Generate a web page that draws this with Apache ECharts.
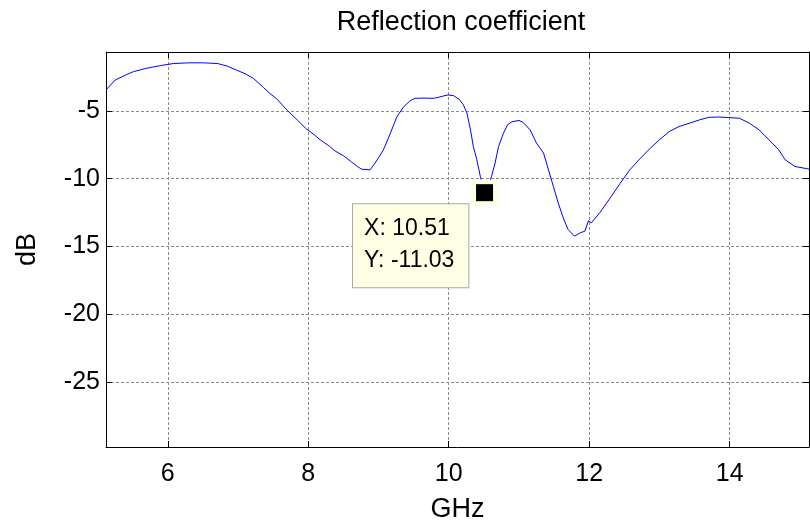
<!DOCTYPE html>
<html>
<head>
<meta charset="utf-8">
<script src="https://cdn.jsdelivr.net/npm/echarts@6/dist/echarts.min.js"></script>
<style>html,body{margin:0;padding:0;background:#fff}#c{width:810px;height:523px}</style>
</head>
<body>
<div id="c"></div>
<script>
const freqGHz = [5.12,5.25,5.4,5.51,5.7,5.9,6.08,6.3,6.5,6.71,6.85,6.98,7.1,7.22,7.36,7.45,7.55,7.7,7.85,7.96,8.07,8.17,8.3,8.38,8.5,8.6,8.7,8.76,8.88,8.95,9.02,9.07,9.17,9.26,9.36,9.45,9.52,9.65,9.78,9.85,9.92,9.99,10.07,10.15,10.21,10.26,10.31,10.35,10.4,10.45,10.51,10.56,10.61,10.66,10.71,10.78,10.84,10.9,11.0,11.06,11.16,11.25,11.35,11.42,11.49,11.56,11.63,11.7,11.79,11.87,11.94,11.99,12.03,12.15,12.3,12.44,12.58,12.72,12.86,13.0,13.14,13.28,13.43,13.57,13.71,13.85,13.99,14.14,14.28,14.42,14.56,14.7,14.79,14.93,15.13];
const reflectionDB = [-3.45,-2.72,-2.35,-2.1,-1.85,-1.65,-1.5,-1.45,-1.45,-1.5,-1.7,-1.99,-2.25,-2.6,-3.26,-3.7,-4.1,-4.95,-5.7,-6.27,-6.7,-7.13,-7.6,-7.95,-8.3,-8.7,-9.1,-9.3,-9.35,-8.85,-8.3,-7.87,-6.64,-5.45,-4.68,-4.25,-4.07,-4.05,-4.07,-4.0,-3.9,-3.82,-3.87,-4.15,-4.56,-5.17,-6.4,-7.62,-8.6,-9.83,-11.03,-10.6,-9.83,-8.85,-7.62,-6.64,-6.0,-5.8,-5.7,-5.85,-6.4,-7.38,-8.11,-9.34,-10.57,-11.79,-12.89,-13.75,-14.24,-14.0,-13.87,-13.1,-13.26,-12.52,-11.42,-10.35,-9.34,-8.55,-7.8,-7.13,-6.52,-6.15,-5.9,-5.66,-5.47,-5.45,-5.49,-5.54,-5.9,-6.4,-7.13,-7.87,-8.6,-9.1,-9.29];
const xTicks = [6, 8, 10, 12, 14];
const yTicks = [-25, -20, -15, -10, -5];
const dataTip = [10.51, -11.03];
const titleText = 'Reflection coefficient';
const xName = 'GHz';
const yName = 'dB';

const X_MIN = 5.12, X_MAX = 15.13, Y_MIN = -29.8, Y_MAX = -0.65;
const FONT = '"Liberation Sans", Arial, sans-serif';
const gridLine = { show: true, lineStyle: { color: '#8a8a8a', type: [3, 2], width: 1 } };

const chart = echarts.init(document.getElementById('c'), null, { renderer: 'canvas' });
chart.setOption({
  animation: false,
  backgroundColor: '#fff',
  title: {
    text: titleText, left: 456, top: 4, textAlign: 'center',
    textStyle: { fontFamily: FONT, fontSize: 27, fontWeight: 'normal', color: '#000' }
  },
  grid: { left: 106, right: 1, top: 52, bottom: 76, containLabel: false, outerBoundsMode: 'none' },
  xAxis: [{
    type: 'value', min: X_MIN, max: X_MAX, position: 'bottom',
    name: xName, nameLocation: 'middle', nameGap: 49,
    nameTextStyle: { fontFamily: FONT, fontSize: 27, color: '#000' },
    axisLine: { show: true, onZero: false, lineStyle: { color: '#000', width: 1 } },
    axisTick: { show: true, inside: true, length: 6, customValues: xTicks, lineStyle: { color: '#000' } },
    axisLabel: { customValues: xTicks, margin: 15, fontFamily: FONT, fontSize: 25, color: '#000' },
    splitLine: gridLine
  }, {
    type: 'value', min: X_MIN, max: X_MAX, position: 'top',
    axisLine: { show: true, onZero: false, lineStyle: { color: '#000', width: 1 } },
    axisTick: { show: true, inside: true, length: 6, customValues: xTicks, lineStyle: { color: '#000' } },
    axisLabel: { show: false }, splitLine: { show: false }
  }],
  yAxis: [{
    type: 'value', min: Y_MIN, max: Y_MAX, position: 'left',
    name: yName, nameLocation: 'middle', nameGap: 65, nameRotate: 90,
    nameTextStyle: { fontFamily: FONT, fontSize: 27, color: '#000' },
    axisLine: { show: true, onZero: false, lineStyle: { color: '#000', width: 1 } },
    axisTick: { show: true, inside: true, length: 6, customValues: yTicks, lineStyle: { color: '#000' } },
    axisLabel: { customValues: yTicks, margin: 6, fontFamily: FONT, fontSize: 25, color: '#000' },
    splitLine: gridLine
  }, {
    type: 'value', min: Y_MIN, max: Y_MAX, position: 'right',
    axisLine: { show: true, onZero: false, lineStyle: { color: '#000', width: 1 } },
    axisTick: { show: true, inside: true, length: 6, customValues: yTicks, lineStyle: { color: '#000' } },
    axisLabel: { show: false }, splitLine: { show: false }
  }],
  series: [{
    type: 'line',
    data: freqGHz.map((f, i) => [f, reflectionDB[i]]),
    showSymbol: false, symbol: 'none',
    lineStyle: { color: '#0000ff', width: 1 },
    z: 2
  }, {
    type: 'scatter', data: [dataTip], symbol: 'rect', symbolSize: 26,
    itemStyle: { color: '#ffffe1', opacity: 1 }, z: 3, silent: true
  }, {
    type: 'scatter', data: [dataTip], symbol: 'rect', symbolSize: 17,
    itemStyle: { color: '#000', opacity: 1 }, z: 4, silent: true,
    label: {
      show: true, position: [-123, 20],
      formatter: p => 'X: ' + p.value[0].toFixed(2) + '\nY: ' + p.value[1].toFixed(2),
      fontFamily: FONT, fontSize: 23, lineHeight: 32, color: '#000',
      align: 'left', verticalAlign: 'top',
      backgroundColor: '#ffffe6', borderColor: '#a8a8a8', borderWidth: 1,
      padding: [9, 14, 10, 11]
    }
  }]
});
</script>
</body>
</html>
